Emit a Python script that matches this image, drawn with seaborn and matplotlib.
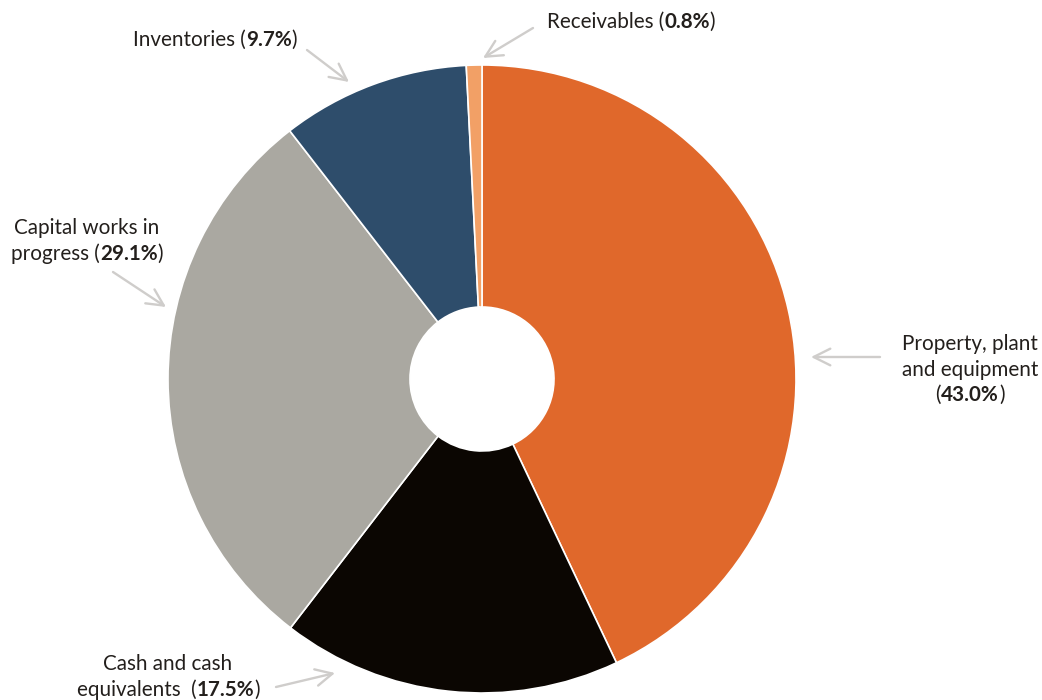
import matplotlib
matplotlib.use("Agg")
import matplotlib.pyplot as plt
import seaborn as sns

# Asset composition (share of total, %)
categories = ["Property, plant and equipment", "Cash and cash equivalents",
              "Capital works in progress", "Inventories", "Receivables"]
shares = [43.0, 17.5, 29.1, 9.7, 0.8]
share_labels = ["43.0%", "17.5%", "29.1%", "9.7%", "0.8%"]
colors = ["#E0682B", "#0B0602", "#AAA8A1", "#2E4D6B", "#F2A066"]

sns.set_theme(style="white")
plt.rcParams["font.family"] = ["Lato", "DejaVu Sans"]

W, H = 1042, 700
fig = plt.figure(figsize=(W / 100, H / 100), dpi=100)
ax = fig.add_axes([0, 0, 1, 1])
ax.set_xlim(0, W)
ax.set_ylim(0, H)
ax.set_aspect("equal")
ax.axis("off")

cx, cy, r_out, r_in = 482, H - 379, 314, 72
ax.pie(shares, colors=colors, startangle=90, counterclock=False,
       center=(cx, cy), radius=r_out, frame=True,
       wedgeprops=dict(width=r_out - r_in, edgecolor="white", linewidth=1.2))
ax.set_xlim(0, W)
ax.set_ylim(0, H)
ax.axis("off")

TXT = "#231F1C"
FS = 14.9
renderer = fig.canvas.get_renderer()


def rich_line(x, y, parts, ha="center"):
    """Draw one line of mixed-weight text; x is the anchor, y the vertical centre."""
    widths = []
    for s, w in parts:
        t = ax.text(0, 0, s, fontsize=FS, fontweight=w)
        widths.append(t.get_window_extent(renderer).width)
        t.remove()
    total = sum(widths)
    x0 = x - total / 2 if ha == "center" else x
    for (s, w), wd in zip(parts, widths):
        ax.text(x0, y, s, fontsize=FS, fontweight=w, color=TXT,
                ha="left", va="center")
        x0 += wd


def label(x, y, lines, ha="center", gap=25.5):
    for i, parts in enumerate(lines):
        rich_line(x, H - (y + i * gap), parts, ha=ha)


def arrow(x1, y1, x2, y2):
    ax.annotate("", xy=(x2, H - y2), xytext=(x1, H - y1),
                arrowprops=dict(arrowstyle="->,head_length=1.0,head_width=0.5",
                                color="#CFCDCB", lw=1.7, shrinkA=0, shrinkB=0))


N, B = "normal", "bold"
label(547, 22, [[("Receivables (", N), (share_labels[4], B), (")", N)]], ha="left")
arrow(533, 28, 483, 58)

label(215, 40, [[("Inventories (", N), (share_labels[3], B), (")", N)]])
arrow(307, 50, 349, 82)

label(87, 228, [[("Capital works in", N)],
                [("progress (", N), (share_labels[2], B), (")", N)]])
arrow(113, 272, 166, 307)

label(970, 344, [[("Property, plant", N)], [("and equipment", N)],
                 [("(", N), (share_labels[0], B), (")", N)]])
arrow(880, 357, 811, 357)

label(168, 664, [[("Cash and cash", N)],
                 [("equivalents  (", N), (share_labels[1], B), (")", N)]])
arrow(276, 687, 335, 673)

fig.savefig("out.png", dpi=100, facecolor="white")
